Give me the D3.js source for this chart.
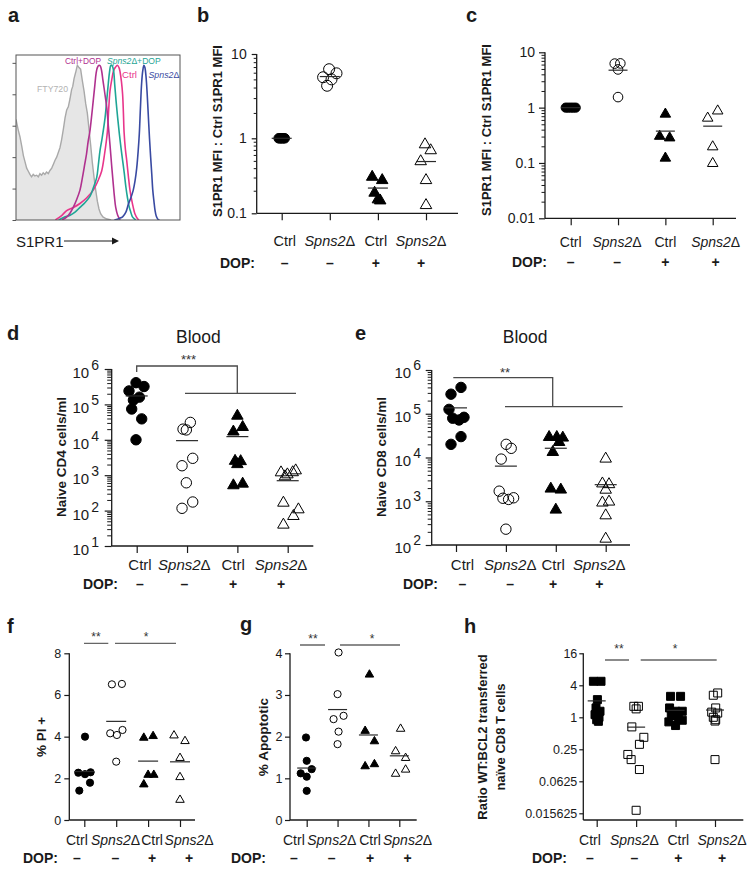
<!DOCTYPE html>
<html><head><meta charset="utf-8">
<script src="https://cdn.jsdelivr.net/npm/d3@7"></script>
<style>body{margin:0;background:#fff}svg{display:block}</style>
</head><body><svg id="chart" width="754" height="870"></svg>
<script>
// ================= DATA =================
const categories = ["Ctrl", "Spns2Δ", "Ctrl", "Spns2Δ"];
const dopRow = ["–", "–", "+", "+"];

// Panel a: flow histograms [S1PR1 channel (0-100), % of max]
const histFTY720 = [[0,64],[1.2,58],[2.4,53],[3.5,47],[4.5,41],[5.5,37],[6.5,33],[7.5,31],[8.5,29],[9.5,27.5],[10.5,29],[11.5,28],[12.6,28.5],[13.6,27.5],[14.6,29.5],[15.6,28.5],[16.6,30],[17.6,29],[18.6,30.5],[19.7,29.5],[20.7,31.5],[21.8,33],[22.8,35.5],[23.8,38],[24.8,40],[25.8,43],[26.8,46],[27.8,51],[28.9,58],[29.9,65],[30.9,70],[31.9,72],[32.9,77],[33.9,83],[34.6,85],[35.4,90],[36.4,94],[37.4,98.5],[38.4,97],[39.4,96],[40.4,89],[41.5,82],[42.5,74],[43.5,68],[44.5,58],[45.5,48],[46.5,37],[47.6,27],[48.6,19],[49.6,12],[50.6,7],[51.6,4],[53,2],[55,0.8],[58,0]];
const histCtrlDOP = [[28,0],[31,2],[33,4.5],[34.9,8],[37,13],[39,19],[40.5,27],[42,36],[43,42],[44,50],[45,56],[46,65],[47.1,76],[48,85],[48.8,93],[49.6,97],[50.6,98.5],[51.4,98],[52.2,95],[53,89],[53.7,84],[54.5,78],[55.3,72],[56.3,60],[57.3,48],[58.3,35],[59.3,23],[60,15],[60.8,8],[62,3],[63.5,0]];
const histCtrl = [[24,0],[28,3],[30.9,6],[35,8],[39,10.5],[43,14],[47.1,19],[50,25],[52.2,31],[54,42],[55.7,56],[56.5,70],[57.3,82],[58.5,90],[59.5,95],[60.5,97],[61.8,98.5],[62.8,97],[63.5,94],[64.3,88],[65,80],[65.5,68],[65.9,56],[66.7,45],[67.5,38],[68.5,28],[69.5,19],[70.5,13],[71.5,8],[72.5,4],[74,1],[75,0]];
const histSpns2DOP = [[26,0],[30,2],[33,3],[36,5],[39,8],[42,11],[45.1,15],[47,20],[49.2,27],[50.2,35],[51.2,44],[52.5,52],[54.3,65],[55.3,76],[56.3,87],[57,94],[57.9,98.5],[58.7,98],[59.5,95],[60.2,86],[61,76],[62,65],[63,55],[64,46],[65,38],[66,30],[67,21],[68,14],[69.1,8],[70,5],[71,2],[73,0]];
const histSpns2 = [[60,0],[63,1],[65,2],[67,5],[68.5,10],[70,14],[71.5,19],[72.6,25],[73.6,33],[74.5,44],[75.2,55],[75.9,72],[76.6,87],[77.3,95],[78,98.5],[78.6,97],[79.3,91],[80,80],[80.7,66],[81.4,52],[82.1,40],[82.8,29],[83.4,19],[84.1,12],[84.8,6],[85.5,2.5],[86.5,0.5],[87.5,0]];

// Panel b: S1PR1 MFI ratio
const bCtrl = [1, 1, 1, 1, 1];
const bSpns2 = [6.6, 5.9, 5.3, 5.0, 4.2];
const bCtrlDop = [0.31, 0.28, 0.19, 0.155, 0.15];
const bSpns2Dop = [0.84, 0.70, 0.50, 0.28, 0.13];
const bTicks = [0.1, 1, 10];

// Panel c
const cCtrl = [1, 1, 1, 1, 1];
const cSpns2 = [6.25, 6.3, 4.9, 1.55];
const cCtrlDop = [0.78, 0.31, 0.29, 0.125];
const cSpns2Dop = [0.66, 0.89, 0.2, 0.1];
const cTicks = [0.01, 0.1, 1, 10];

// Panel d: naive CD4 cells/ml
const dCtrl = [4.1e5, 3.2e5, 2.4e5, 1.6e5, 1.33e5, 7.4e4, 3.9e4, 1.0e4];
const dSpns2 = [3.1e4, 2.0e4, 1.9e4, 3.0e3, 1.85e3, 610, 175, 116];
const dCtrlDop = [4.9e4, 2.35e4, 1.75e4, 2.6e3, 2.55e3, 2.1e3, 530, 590];
const dSpns2Dop = [1230, 1080, 1240, 1400, 950, 171, 111, 72, 41];
const dTicks = [1e1, 1e2, 1e3, 1e4, 1e5, 1e6];

// Panel e: naive CD8 cells/ml
const eCtrl = [4.0e5, 2.8e5, 1.26e5, 7.9e4, 7.2e4, 8.3e4, 3.0e4, 2.0e4];
const eSpns2 = [2.0e4, 1.62e4, 9.2e3, 1.7e3, 1.17e3, 1.1e3, 1.2e3, 230];
const eCtrlDop = [3.0e4, 3.0e4, 2.9e4, 2.3e4, 1.36e4, 1.98e3, 1.88e3, 655];
const eSpns2Dop = [9.6e3, 2.6e3, 2.5e3, 1.87e3, 950, 1.0e3, 485, 142];
const eTicks = [1e2, 1e3, 1e4, 1e5, 1e6];

// Panel f: % PI+
const fCtrl = [4.0, 2.27, 2.2, 2.29, 1.79, 1.41];
const fSpns2 = [6.51, 6.53, 4.16, 4.08, 4.32, 2.8];
const fCtrlDop = [3.97, 4.05, 2.19, 2.19, 1.73];
const fSpns2Dop = [4.08, 3.81, 3.0, 2.08, 0.99];
const fTicks = [0, 2, 4, 6, 8];

// Panel g: % Apoptotic
const gCtrl = [1.98, 1.42, 1.12, 1.22, 1.04, 0.70];
const gSpns2 = [4.02, 3.02, 2.42, 2.5, 2.12, 1.82];
const gCtrlDop = [3.5, 2.15, 1.9, 1.3, 1.35];
const gSpns2Dop = [2.2, 1.66, 1.5, 1.22, 1.12];
const gTicks = [0, 1, 2, 3, 4];

// Panel h: ratio WT:BCL2
const hCtrl = [4.76, 4.76, 2.15, 1.5, 1.3, 1.12, 1.0, 0.9, 0.84];
const hSpns2 = [1.61, 1.61, 1.44, 0.66, 0.42, 0.31, 0.2, 0.16, 0.104, 0.0178];
const hCtrlDop = [2.48, 2.48, 1.5, 1.3, 1.3, 1.08, 0.98, 0.88, 0.82, 0.7];
const hSpns2Dop = [2.87, 2.6, 1.5, 1.25, 1.2, 1.0, 0.9, 0.85, 0.16];
const hTicks = [0.015625, 0.0625, 0.25, 1, 4, 16];
const hTickLabels = ["0.015625", "0.0625", "0.25", "1", "4", "16"];

// ================= LAYOUT (point spread within a column, px) =================
const jitB = [[-3,-1.5,0,1.5,3],[-0.7,6.7,-6.7,1.7,-2.7],[-5.7,4.3,-3.3,0,2.3],[-1,4.7,-5.3,0,0]];
const jitC = [[-5,-2.5,0,2.5,5],[-3.3,2.3,0,0],[0,-5.7,4.3,0],[-5,5,0,0]];
const jitD = [[-0.7,7.3,-7.7,2.7,-3.3,-5,5,-0.7],[3.3,-4,-0.7,5.7,-5,-0.7,5.7,-5],[0,5.3,-4,-2.3,3.3,0,-4,5.3],[-6.7,-0.3,5,8,-2.7,-4.3,10.7,5.7,-4.3]];
const jitE = [[5,-5,-7,-3.3,3,8,5,-5],[0.3,5.3,-4.7,-6.7,-3,2.7,7.7,0],[-6.7,1,7,3.3,-3,-5,5,0],[0,-3.3,3.3,0,-3.3,3.3,0,0]];
const jitF = [[0.7,-6,0.7,6.3,5.7,-5],[-4.3,5.7,-6,0.7,6.3,0],[-4.3,5,0,5.7,-4.3],[-6,5,0,0,0]];
const jitG = [[-0.7,0,-6,5,0,0],[1,0,-4,6,1,0],[1,-3.3,6,-3.3,6],[1.3,-3.7,6.3,6.3,-3.7]];
const jitH = [[-3.3,4.3,0.7,-0.7,3.3,-1.7,2.3,0,1.7],[-2.3,2.3,0,-4.3,7.7,3.3,-8.3,-5,3.3,0],[-5,5,-6,0,6.7,-4.3,2.7,6.7,-6.7,0],[2.7,-1.7,0.7,-3.3,2.7,-1.7,0.7,0,0]];

const FONT = '"Liberation Sans", Arial, Helvetica, sans-serif';
const INK = "#1a1a1a";
const svg = d3.select("#chart").attr("font-family", FONT);

function letter(t, x, y) {
  svg.append("text").attr("x", x).attr("y", y).attr("font-size", 20).attr("font-weight", "bold").attr("fill", INK).text(t);
}
function catText(g, label, x, y, size) {
  const t = g.append("text").attr("x", x).attr("y", y).attr("text-anchor", "middle").attr("font-size", size).attr("fill", INK);
  if (label.startsWith("Spns2")) {
    t.append("tspan").attr("font-style", "italic").text("Spns2");
    t.append("tspan").text("Δ");
  } else t.text(label);
}
function logMinor(lo, hi) {
  const out = [];
  for (let e = Math.round(Math.log10(lo)); e < Math.round(Math.log10(hi)); e++)
    for (let m = 2; m <= 9; m++) out.push(m * Math.pow(10, e));
  return out;
}

// ================= PANEL a =================
(function () {
  const x0 = 16, x1 = 180, y0 = 55, y1 = 220;
  const x = d3.scaleLinear().domain([0, 100]).range([x0, x1]);
  const y = d3.scaleLinear().domain([0, 105]).range([y1, y0]);
  const g = svg.append("g");
  g.append("clipPath").attr("id", "clipA").append("rect").attr("x", x0).attr("y", y0).attr("width", x1 - x0).attr("height", y1 - y0);
  const area = d3.area().x(d => x(d[0])).y0(y(0)).y1(d => y(d[1])).curve(d3.curveLinear);
  const line = d3.line().x(d => x(d[0])).y(d => y(d[1])).curve(d3.curveCatmullRom);
  const c = g.append("g").attr("clip-path", "url(#clipA)");
  c.append("path").attr("d", area(histFTY720)).attr("fill", "#e6e6e6");
  c.append("path").attr("d", d3.line().x(d => x(d[0])).y(d => y(d[1]))(histFTY720)).attr("fill", "none").attr("stroke", "#a9a9a9").attr("stroke-width", 1.4);
  const series = [[histCtrl, "#e8368b"], [histSpns2DOP, "#1fa596"], [histCtrlDOP, "#b0318f"], [histSpns2, "#394aa2"]];
  series.forEach(([d, col]) => c.append("path").attr("d", line(d)).attr("fill", "none").attr("stroke", col).attr("stroke-width", 1.6));
  g.append("rect").attr("x", x0).attr("y", y0).attr("width", x1 - x0).attr("height", y1 - y0).attr("fill", "none").attr("stroke", "#555").attr("stroke-width", 1);
  const ya = g.append("g").attr("transform", `translate(${x0},0)`).call(d3.axisLeft(y).tickValues(d3.range(0, 101, 20)).tickSize(3.5).tickFormat(""));
  ya.select(".domain").remove();
  ya.selectAll("line").attr("stroke", "#555");
  const lab = (t, xx, yy, col, size, len, it) => {
    const e = g.append("text").attr("x", xx).attr("y", yy).attr("font-size", size).attr("fill", col);
    if (len) e.attr("textLength", len).attr("lengthAdjust", "spacingAndGlyphs");
    if (it) { e.append("tspan").attr("font-style", "italic").text("Spns2"); e.append("tspan").text(t); } else e.text(t);
  };
  lab("Ctrl+DOP", 65, 64, "#b0318f", 9, 36);
  lab("Δ+DOP", 107, 64, "#1fa596", 8.6, null, true);
  lab("Ctrl", 122, 77.5, "#e8368b", 9, 15);
  lab("Δ", 148.5, 78, "#394aa2", 8.8, null, true);
  lab("FTY720", 37, 92, "#b3b3b3", 9, 31);
  g.append("text").attr("x", 16).attr("y", 246.5).attr("font-size", 15).attr("fill", INK).text("S1PR1");
  g.append("line").attr("x1", 64).attr("x2", 113).attr("y1", 241).attr("y2", 241).attr("stroke", INK).attr("stroke-width", 1.2);
  g.append("path").attr("d", "M112,237.5 L119,241 L112,244.5 Z").attr("fill", INK);
})();

// ================= SCATTER PANELS =================
function drawMarker(g, shape, filled, cx, cy, size) {
  let el;
  if (shape === "circle") {
    el = g.append("circle").attr("cx", cx).attr("cy", cy).attr("r", size);
  } else {
    const type = shape === "triangle" ? d3.symbolTriangle : d3.symbolSquare;
    const area = shape === "triangle" ? Math.sqrt(3) / 4 * size * size : size * size;
    el = g.append("path").attr("d", d3.symbol(type, area)()).attr("transform", `translate(${cx},${cy + (shape === "triangle" ? 0.5 : 0)})`);
  }
  el.attr("fill", filled ? "#000" : "none").attr("stroke", "#000").attr("stroke-width", 1);
}

function scatterPanel(p) {
  const g = svg.append("g");
  const x = d3.scalePoint().domain(d3.range(4)).range(p.catRange);
  const y = p.y;
  g.append("line").attr("x1", p.axisX).attr("x2", p.axisX).attr("y1", p.yTop).attr("y2", p.yBottom).attr("stroke", INK).attr("stroke-width", 1.3);
  g.append("line").attr("x1", p.axisX).attr("x2", p.xRight).attr("y1", p.yBottom).attr("y2", p.yBottom).attr("stroke", INK).attr("stroke-width", 1.3);
  const ya = g.append("g").attr("transform", `translate(${p.axisX},0)`)
    .call(d3.axisLeft(y).tickValues(p.ticks).tickSize(p.tickLen).tickPadding(p.tickPad).tickFormat(p.fmt));
  ya.attr("font-family", FONT).attr("font-size", p.tickFont);
  ya.select(".domain").remove();
  ya.selectAll("line").attr("stroke", INK).attr("stroke-width", 1.2);
  ya.selectAll("text").attr("fill", INK);
  if (p.minor) {
    const ym = g.append("g").attr("transform", `translate(${p.axisX},0)`)
      .call(d3.axisLeft(y).tickValues(p.minor).tickSize(p.minorLen).tickFormat(""));
    ym.select(".domain").remove();
    ym.selectAll("line").attr("stroke", INK).attr("stroke-width", 1);
  }
  if (p.powerLabels) {
    p.ticks.forEach(v => {
      const t = g.append("text").attr("x", p.powerX).attr("y", y(v) + p.powerDy).attr("text-anchor", "end").attr("font-size", 15).attr("fill", INK).text("10");
      t.append("tspan").attr("dx", 2).attr("dy", -8).attr("font-size", 14).text(Math.round(Math.log10(v)));
    });
  }
  const xa = g.append("g").attr("transform", `translate(0,${p.yBottom})`).call(d3.axisBottom(x).tickSize(7).tickFormat(""));
  xa.select(".domain").remove();
  xa.selectAll("line").attr("stroke", INK).attr("stroke-width", 1.2);
  categories.forEach((c, i) => {
    const lx = x(i) + (p.labelDx ? p.labelDx[i] : 0);
    catText(g, c, lx, p.catY, p.catFont);
    g.append("text").attr("x", lx).attr("y", p.dopY).attr("text-anchor", "middle").attr("font-size", 14).attr("font-weight", "bold").attr("fill", INK).text(dopRow[i]);
  });
  g.append("text").attr("x", p.dopEndX).attr("y", p.dopY).attr("text-anchor", "end").attr("font-size", 14).attr("font-weight", "bold").attr("fill", INK).text("DOP:");
  const yl = g.append("text").attr("transform", `translate(${p.yLabelX},${p.yLabelY}) rotate(-90)`).attr("text-anchor", "middle")
    .attr("font-size", p.yLabelFont).attr("font-weight", "bold").attr("fill", INK);
  if (p.yLabel.length === 1) yl.text(p.yLabel[0]);
  else p.yLabel.forEach((s, i) => yl.append("tspan").attr("x", 0).attr("dy", i === 0 ? 0 : p.yLabelGap).text(s));
  p.values.forEach((vals, gi) => {
    const m = p.markers[gi];
    vals.forEach((v, k) => drawMarker(g, m.shape, m.filled, x(gi) + p.jitter[gi][k], y(v), m.size));
    const mv = d3.mean(vals);
    g.append("line").attr("x1", x(gi) - p.meanHalf).attr("x2", x(gi) + p.meanHalf).attr("y1", y(mv)).attr("y2", y(mv))
      .attr("stroke", "#2a2a2a").attr("stroke-width", 1.2);
  });
  return g;
}

function circTri(rc, rf, tri) {
  return [{shape: "circle", filled: true, size: rf}, {shape: "circle", filled: false, size: rc},
          {shape: "triangle", filled: true, size: tri}, {shape: "triangle", filled: false, size: tri}];
}

scatterPanel({
  y: d3.scaleLog().domain([0.1, 1, 10]).range([213.3, 138.3, 54]),
  axisX: 256.7, yTop: 54, yBottom: 213.3, xRight: 458, catRange: [281.7, 426],
  ticks: bTicks, fmt: d => String(d), tickLen: 5, tickPad: 5, tickFont: 14,
  minor: logMinor(0.1, 10), minorLen: 3,
  labelDx: [3, 0, -2, -5], catY: 246, catFont: 14.5, dopY: 268, dopEndX: 255,
  yLabel: ["S1PR1 MFI : Ctrl S1PR1 MFI"], yLabelX: 222, yLabelY: 131, yLabelFont: 13,
  values: [bCtrl, bSpns2, bCtrlDop, bSpns2Dop], jitter: jitB,
  markers: circTri(5.5, 4.8, 11.5), meanHalf: 10
});
scatterPanel({
  y: d3.scaleLog().domain([0.01, 10]).range([218.3, 52.3]),
  axisX: 545, yTop: 52.3, yBottom: 218.3, xRight: 736, catRange: [570.7, 712.7],
  ticks: cTicks, fmt: d => String(d), tickLen: 6, tickPad: 4, tickFont: 14,
  minor: logMinor(0.01, 10), minorLen: 3.5,
  labelDx: [0, -1, 0, 3], catY: 246.5, catFont: 14, dopY: 267, dopEndX: 547,
  yLabel: ["S1PR1 MFI : Ctrl S1PR1 MFI"], yLabelX: 491, yLabelY: 130, yLabelFont: 13,
  values: [cCtrl, cSpns2, cCtrlDop, cSpns2Dop], jitter: jitC,
  markers: circTri(4.8, 4.6, 10.5), meanHalf: 9.5
});
scatterPanel({
  y: d3.scaleLog().domain([10, 1e6]).range([546, 369]),
  axisX: 111.7, yTop: 369, yBottom: 546, xRight: 313.3, catRange: [136.7, 287.7],
  ticks: dTicks, fmt: () => "", tickLen: 7, tickPad: 3, tickFont: 14,
  minor: logMinor(10, 1e6), minorLen: 4.5,
  powerLabels: true, powerX: 99, powerDy: 9,
  labelDx: [3.3, -2.7, -4.3, -6.7], catY: 570, catFont: 15, dopY: 589, dopEndX: 118,
  yLabel: ["Naive CD4 cells/ml"], yLabelX: 66, yLabelY: 457, yLabelFont: 13.5,
  values: [dCtrl, dSpns2, dCtrlDop, dSpns2Dop], jitter: jitD,
  markers: circTri(5.2, 5.2, 11.5), meanHalf: 11
});
scatterPanel({
  y: d3.scaleLog().domain([100, 1e6]).range([545, 370]),
  axisX: 431.7, yTop: 370, yBottom: 545, xRight: 630, catRange: [456, 605.7],
  ticks: eTicks, fmt: () => "", tickLen: 6, tickPad: 3, tickFont: 14,
  minor: logMinor(100, 1e6), minorLen: 4,
  powerLabels: true, powerX: 421, powerDy: 8,
  labelDx: [6.5, 4.3, -2.7, -6.4], catY: 570, catFont: 15, dopY: 589, dopEndX: 438,
  yLabel: ["Naive CD8 cells/ml"], yLabelX: 386, yLabelY: 457, yLabelFont: 13.5,
  values: [eCtrl, eSpns2, eCtrlDop, eSpns2Dop], jitter: jitE,
  markers: circTri(5.2, 5.2, 11.5), meanHalf: 11
});
scatterPanel({
  y: d3.scaleLinear().domain([0, 8]).range([820, 653.3]),
  axisX: 69.3, yTop: 653.3, yBottom: 820, xRight: 195, catRange: [84.3, 180],
  ticks: fTicks, fmt: d => String(d), tickLen: 5, tickPad: 3, tickFont: 12.5,
  labelDx: [-7.4, -0.7, 4, 9.1], catY: 845, catFont: 14, dopY: 863, dopEndX: 58,
  yLabel: ["% PI +"], yLabelX: 46, yLabelY: 737, yLabelFont: 13.5,
  values: [fCtrl, fSpns2, fCtrlDop, fSpns2Dop], jitter: jitF,
  markers: circTri(3.6, 3.6, 8.5), meanHalf: 10
});
scatterPanel({
  y: d3.scaleLinear().domain([0, 4]).range([820, 653.3]),
  axisX: 290, yTop: 653.3, yBottom: 820, xRight: 416.7, catRange: [306.7, 399.3],
  ticks: gTicks, fmt: d => String(d), tickLen: 5, tickPad: 2.5, tickFont: 12.5,
  labelDx: [-12.8, -5.8, 1.6, 8.2], catY: 845, catFont: 14, dopY: 863, dopEndX: 266,
  yLabel: ["% Apoptotic"], yLabelX: 268, yLabelY: 737, yLabelFont: 13.5,
  values: [gCtrl, gSpns2, gCtrlDop, gSpns2Dop], jitter: jitG,
  markers: circTri(3.6, 3.6, 8.5), meanHalf: 9.5
});
scatterPanel({
  y: d3.scaleLog().base(2).domain([0.015625, 16]).range([813.3, 653.3]),
  axisX: 583.3, yTop: 653.3, yBottom: 820, xRight: 743.3, catRange: [596.7, 715],
  ticks: hTicks, fmt: d => hTickLabels[hTicks.indexOf(d)], tickLen: 4, tickPad: 2, tickFont: 12.5,
  labelDx: [-6.7, -1.7, 2.7, 7], catY: 845, catFont: 14, dopY: 863, dopEndX: 567,
  yLabel: ["Ratio WT:BCL2 transferred", "naïve CD8 T cells"], yLabelX: 487, yLabelY: 737, yLabelFont: 13, yLabelGap: 18,
  values: [hCtrl, hSpns2, hCtrlDop, hSpns2Dop], jitter: jitH,
  markers: [{shape: "square", filled: true, size: 8}, {shape: "square", filled: false, size: 8},
            {shape: "square", filled: true, size: 8}, {shape: "square", filled: false, size: 8}],
  meanHalf: 9
});

// ================= TITLES & SIGNIFICANCE =================
svg.append("text").attr("x", 198.4).attr("y", 342.5).attr("text-anchor", "middle").attr("font-size", 17.5).attr("fill", INK).text("Blood");
svg.append("text").attr("x", 525.2).attr("y", 342.5).attr("text-anchor", "middle").attr("font-size", 17.5).attr("fill", INK).text("Blood");

function sigPath(d, col) {
  svg.append("path").attr("d", d).attr("fill", "none").attr("stroke", col).attr("stroke-width", 1.3);
}
function stars(t, x, y, size) {
  svg.append("text").attr("x", x).attr("y", y).attr("text-anchor", "middle").attr("font-size", size || 12).attr("fill", "#333").text(t);
}
sigPath("M136.7,372 V366 H237.3 V393.3 M185,393.3 H296", "#4a4a4a");
stars("***", 188.5, 363.5, 13);
sigPath("M453.3,377.7 H552.7 V406.7 M505,406.7 H622.7", "#4a4a4a");
stars("**", 505, 376.5, 13);
sigPath("M84,643.3 H108.3 M115,643.3 H176", "#666");
stars("**", 96, 641);
stars("*", 146, 641);
sigPath("M300,645 H325 M340,645 H400", "#666");
stars("**", 313, 642.5);
stars("*", 372, 642.5);
sigPath("M605,660 H629 M640.7,660 H716.7", "#666");
stars("**", 619, 652.5);
stars("*", 675, 652.5);

// ================= PANEL LETTERS =================
letter("a", 8, 22); letter("b", 197, 22); letter("c", 466, 22);
letter("d", 7, 340); letter("e", 355, 340);
letter("f", 7, 633); letter("g", 240, 631); letter("h", 464, 633);
</script>
</body></html>
